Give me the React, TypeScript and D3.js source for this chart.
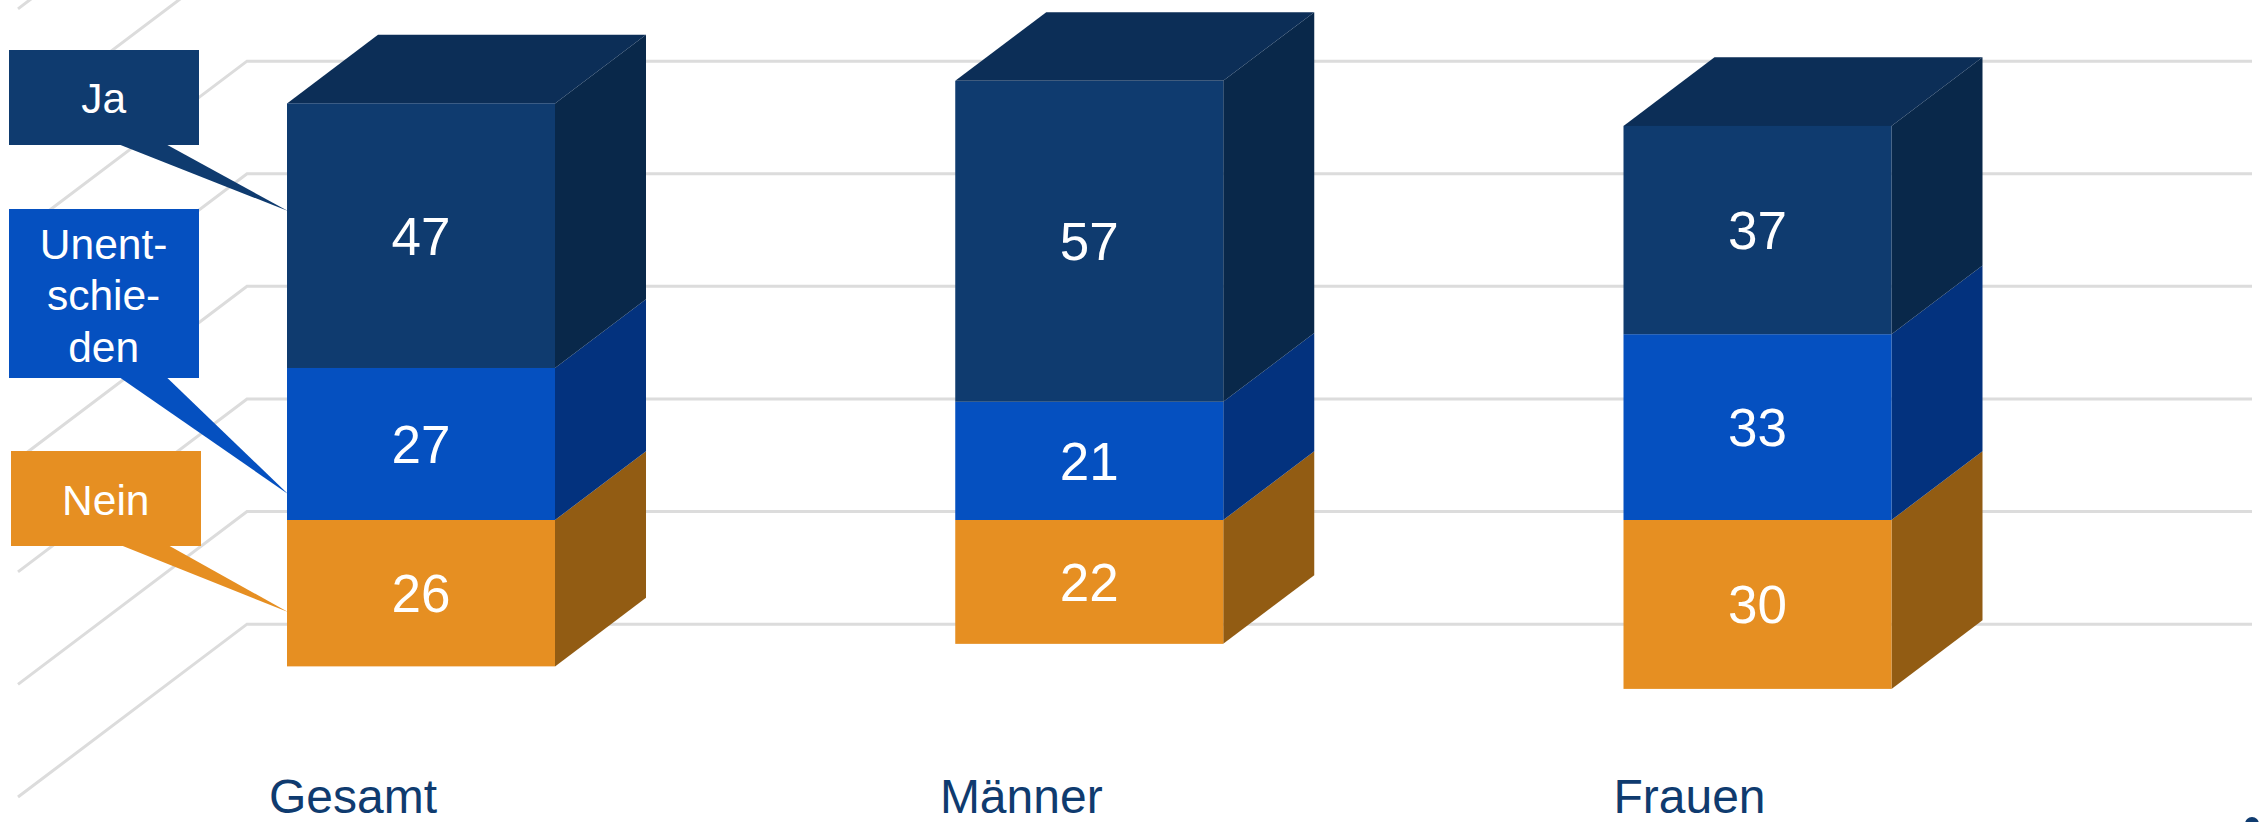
import React from "react";
import * as d3 from "d3";

const categories = ["Gesamt", "Männer", "Frauen"];
const neinValues = [26, 22, 30];
const unentschiedenValues = [27, 21, 33];
const jaValues = [47, 57, 37];
const gridValues = [-30.7, -10.7, 9.3, 29.3, 49.3, 69.3, 89.3, 109.3];

const W = 2267;
const H = 822;
const FONT = "'Liberation Sans', Arial, sans-serif";
const DX = 91;
const DY = -68.7;
const HALF = 134;

const x = d3.scalePoint<string>().domain(categories).range([421, 1757.5]);
const y = d3.scaleLinear().domain([0, 100]).range([520, -43]);

const palette = {
  ja: { front: "#0F3B6F", side: "#09284A", top: "#0C2E57" },
  un: { front: "#0550C0", side: "#03327E" },
  ne: { front: "#E68F22", side: "#925C13" },
};

const line = d3.line<[number, number]>();

function Block({ cx, from, to, label, color }: { cx: number; from: number; to: number; label: number; color: { front: string; side: string; top?: string } }) {
  const y0 = y(from);
  const y1 = y(to);
  const top = Math.min(y0, y1);
  const bot = Math.max(y0, y1);
  const xl = cx - HALF;
  const xr = cx + HALF;
  return (
    <g>
      <path
        d={line([[xr, top], [xr + DX, top + DY], [xr + DX, bot + DY], [xr, bot]]) + "Z"}
        fill={color.side}
      />
      {color.top && (
        <path
          d={line([[xl, top], [xl + DX, top + DY], [xr + DX, top + DY], [xr, top]]) + "Z"}
          fill={color.top}
        />
      )}
      <rect x={xl} y={top} width={xr - xl} height={bot - top} fill={color.front} />
      <text x={cx} y={(top + bot) / 2 + 19} textAnchor="middle" fontSize={53} fill="#fff" fontFamily={FONT}>
        {label}
      </text>
    </g>
  );
}

function Callout({ box, tail, lines, baselines, tx, color }: { box: number[]; tail: [number, number][]; lines: string[]; baselines: number[]; tx: number; color: string }) {
  return (
    <g>
      <path d={line(tail) + "Z"} fill={color} />
      <rect x={box[0]} y={box[1]} width={box[2] - box[0]} height={box[3] - box[1]} fill={color} />
      {lines.map((t, i) => (
        <text key={t} x={tx} y={baselines[i]} textAnchor="middle" fontSize={42.5} fill="#fff" fontFamily={FONT}>
          {t}
        </text>
      ))}
    </g>
  );
}

export default function App() {
  const gridX0 = 18;
  const gridX1 = 247;
  const gridX2 = 2252;
  const backY = (v: number) => y(v) + DY;
  return (
    <svg width={W} height={H} viewBox={`0 0 ${W} ${H}`} style={{ position: "absolute", left: 0, top: 0, display: "block", background: "#fff" }}>
      <g fill="none" stroke="#DCDCDC" strokeWidth={3}>
        {gridValues.map((v) => (
          <path
            key={v}
            d={line([
              [gridX0, backY(v) + (gridX1 - gridX0) * (-DY / DX)],
              [gridX1, backY(v)],
              [gridX2, backY(v)],
            ]) as string}
          />
        ))}
      </g>
      {categories.map((c, i) => {
        const cx = x(c) as number;
        const n = neinValues[i];
        const u = unentschiedenValues[i];
        const j = jaValues[i];
        return (
          <g key={c}>
            <Block cx={cx} from={-n} to={0} label={n} color={palette.ne} />
            <Block cx={cx} from={0} to={u} label={u} color={palette.un} />
            <Block cx={cx} from={u} to={u + j} label={j} color={palette.ja} />
            <text x={cx - 68} y={813} textAnchor="middle" fontSize={48} fill="#0F3B6F" fontFamily={FONT}>
              {c}
            </text>
          </g>
        );
      })}
      <Callout box={[9, 50, 199, 145]} tail={[[120.5, 145], [167.4, 145], [288, 211]]} lines={["Ja"]} baselines={[113]} tx={103.6} color={palette.ja.front} />
      <Callout box={[9, 209, 199, 378]} tail={[[120.5, 378], [167.4, 378], [288, 494]]} lines={["Unent-", "schie-", "den"]} baselines={[259, 310, 362]} tx={103.6} color={palette.un.front} />
      <Callout box={[11, 451, 201, 546]} tail={[[122.8, 546], [169.6, 546], [288, 612]]} lines={["Nein"]} baselines={[515]} tx={105.8} color={palette.ne.front} />
      <circle cx={2252} cy={824} r={7} fill="#0F3B6F" />
    </svg>
  );
}
